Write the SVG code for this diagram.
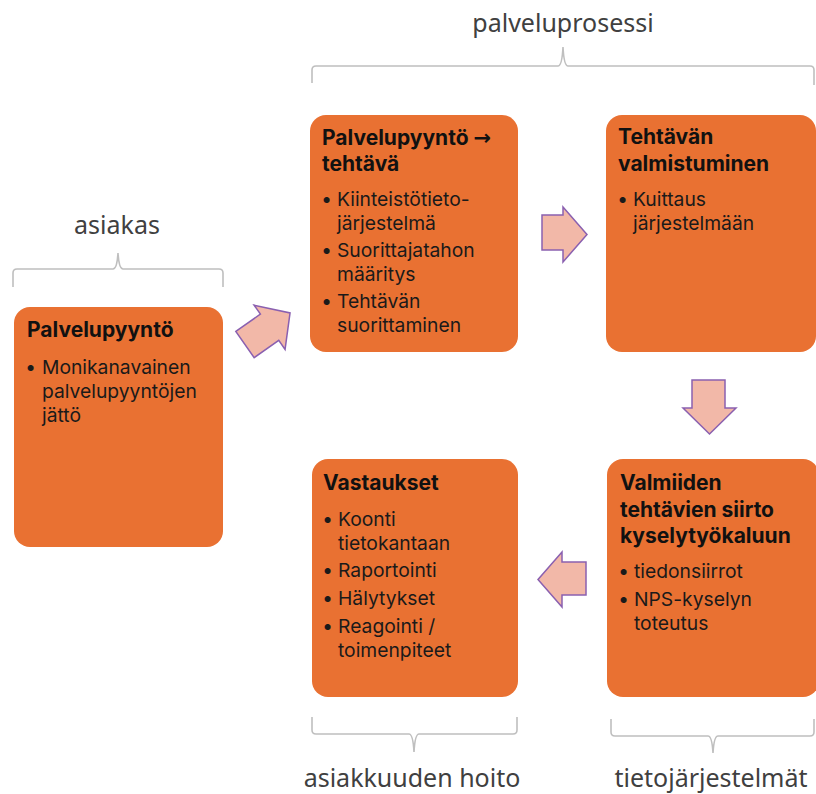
<svg xmlns="http://www.w3.org/2000/svg" width="816" height="794" viewBox="0 0 816 794">
<style>
.box{fill:#E97132;}
.t{font-family:Inter,"Noto Sans","Liberation Sans",sans-serif;font-size:21px;font-weight:bold;fill:#111;}
.ar{font-family:"DejaVu Sans",sans-serif;font-size:21px;font-weight:bold;}
.b{font-family:Inter,"Noto Sans","Liberation Sans",sans-serif;font-size:19.3px;fill:#1a1a1a;}
.d{font-family:Inter,"Noto Sans","Liberation Sans",sans-serif;font-size:19.3px;font-weight:bold;fill:#1a1a1a;}
.lbl{font-family:"Noto Sans","Liberation Sans",sans-serif;font-size:25px;fill:#404040;text-anchor:middle;}
.brace{fill:none;stroke:#BFBFBF;stroke-width:1.6;}
.arr{fill:#F2B8A8;stroke:#8A60B0;stroke-width:1.5;stroke-linejoin:miter;}
</style>
<rect width="816" height="794" fill="#fff"/>
<g id="labels">
<text class="lbl" x="117" y="234">asiakas</text>
<text class="lbl" x="563" y="32">palveluprosessi</text>
<text class="lbl" x="412" y="787">asiakkuuden hoito</text>
<text class="lbl" x="711" y="787">tietojärjestelmät</text>
</g>
<g id="braces">
<path class="brace" d="M13,287 V273 Q13,269 17,269 H113 Q117,269 118,253 Q119,269 123,269 H219 Q223,269 223,273 V287"/>
<path class="brace" d="M312,83 V70 Q312,66 316,66 H558 Q562,66 563,47 Q564,66 568,66 H810 Q814,66 814,70 V85"/>
<path class="brace" d="M312,717 V730 Q312,734 316,734 H409 Q413,734 414,752 Q415,734 419,734 H513 Q517,734 517,730 V717"/>
<path class="brace" d="M611,719 V732 Q611,736 615,736 H708 Q712,736 713,753 Q714,736 718,736 H810 Q814,736 814,732 V719"/>
</g>
<g id="connectors">
<path class="arr" transform="translate(245,344.5) rotate(-35)" d="M0,-16 H30 V-27 L55,0 L30,27 V16 H0 Z"/>
<path class="arr" d="M542,215 H563 V207 L587,234.5 L563,262 V250 H542 Z"/>
<path class="arr" d="M692,380 H725 V408 H736 L709.5,434 L683,408 H692 Z"/>
<path class="arr" d="M586,562 H562 V552 L538,579.5 L562,607 V595 H586 Z"/>
</g>
<g id="n1">
<rect class="box" x="14" y="307" width="209" height="240" rx="16"/>
<text class="t" x="27" y="337">Palvelupyyntö</text>
<text class="d" x="26" y="374">•</text>
<text class="b"><tspan x="42" y="374">Monikanavainen</tspan><tspan x="42" y="398">palvelupyyntöjen</tspan><tspan x="42" y="422">jättö</tspan></text>
</g>
<g id="n2">
<rect class="box" x="310" y="115" width="208" height="237" rx="16"/>
<text class="t"><tspan x="322" y="145">Palvelupyyntö <tspan class="ar">→</tspan></tspan><tspan x="322" y="171">tehtävä</tspan></text>
<text class="d"><tspan x="322" y="206">•</tspan><tspan x="322" y="257">•</tspan><tspan x="322" y="308">•</tspan></text>
<text class="b"><tspan x="337" y="206">Kiinteistötieto-</tspan><tspan x="337" y="230">järjestelmä</tspan><tspan x="337" y="257">Suorittajatahon</tspan><tspan x="337" y="281">määritys</tspan><tspan x="337" y="308">Tehtävän</tspan><tspan x="337" y="332">suorittaminen</tspan></text>
</g>
<g id="n3">
<rect class="box" x="606" y="115" width="210" height="237" rx="16"/>
<text class="t"><tspan x="618" y="144">Tehtävän</tspan><tspan x="618" y="171">valmistuminen</tspan></text>
<text class="d" x="618" y="206">•</text>
<text class="b"><tspan x="633" y="206">Kuittaus</tspan><tspan x="633" y="230">järjestelmään</tspan></text>
</g>
<g id="n4">
<rect class="box" x="607" y="459" width="212" height="238" rx="16"/>
<text class="t"><tspan x="620" y="490">Valmiiden</tspan><tspan x="620" y="517">tehtävien siirto</tspan><tspan x="620" y="543">kyselytyökaluun</tspan></text>
<text class="d"><tspan x="619" y="578">•</tspan><tspan x="619" y="606">•</tspan></text>
<text class="b"><tspan x="634" y="578">tiedonsiirrot</tspan><tspan x="634" y="606">NPS-kyselyn</tspan><tspan x="634" y="630">toteutus</tspan></text>
</g>
<g id="n5">
<rect class="box" x="312" y="459" width="206" height="238" rx="16"/>
<text class="t" x="323" y="490">Vastaukset</text>
<text class="d"><tspan x="323" y="526">•</tspan><tspan x="323" y="577">•</tspan><tspan x="323" y="605">•</tspan><tspan x="323" y="633">•</tspan></text>
<text class="b"><tspan x="338" y="526">Koonti</tspan><tspan x="338" y="550">tietokantaan</tspan><tspan x="338" y="577">Raportointi</tspan><tspan x="338" y="605">Hälytykset</tspan><tspan x="338" y="633">Reagointi /</tspan><tspan x="338" y="657">toimenpiteet</tspan></text>
</g>
</svg>
